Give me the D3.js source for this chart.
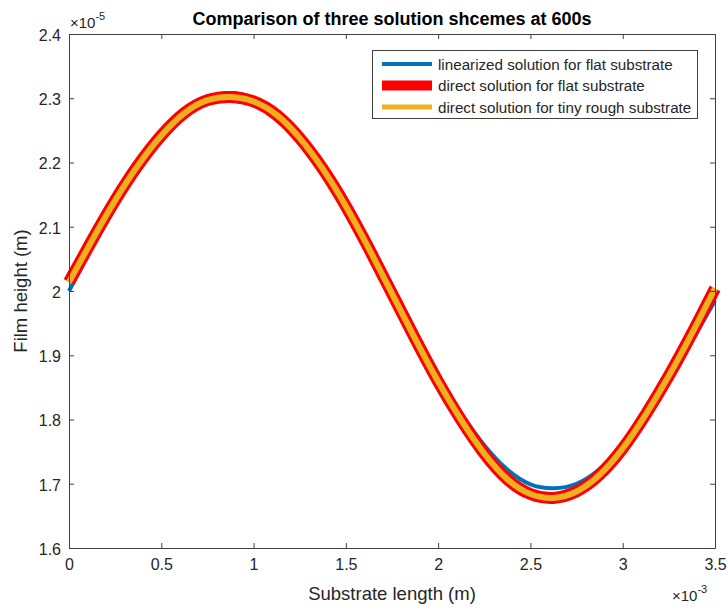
<!DOCTYPE html>
<html>
<head>
<meta charset="utf-8">
<script src="https://cdn.jsdelivr.net/npm/d3@7"></script>
<style>
  body { margin: 0; background: #fff; }
  svg { font-family: "Liberation Sans", Arial, sans-serif; }
</style>
</head>
<body>
<svg id="chart" width="728" height="610"></svg>
<script>
// substrate length (x 1e-3 m), sampled every 0.125
const xs = [0, 0.125, 0.25, 0.375, 0.5, 0.625, 0.75, 0.875, 1, 1.125, 1.25, 1.375, 1.5, 1.625,
  1.75, 1.875, 2, 2.125, 2.25, 2.375, 2.5, 2.625, 2.75, 2.875, 3, 3.125, 3.25, 3.375, 3.5]

// film height (x 1e-5 m)
const linearFlat = [2.000, 2.068, 2.134, 2.192, 2.241, 2.278, 2.300, 2.308, 2.300, 2.278, 2.241, 2.192,
  2.134, 2.068, 1.998, 1.930, 1.866, 1.809, 1.760, 1.722, 1.699, 1.693, 1.700, 1.723, 1.760, 1.808,
  1.864, 1.923, 1.985]
const directFlat = [2.014, 2.079, 2.141, 2.196, 2.242, 2.277, 2.297, 2.302, 2.295, 2.274, 2.238, 2.190,
  2.132, 2.066, 1.996, 1.926, 1.859, 1.799, 1.747, 1.707, 1.684, 1.678, 1.688, 1.714, 1.755, 1.808,
  1.868, 1.934, 2.004]
const directRough = directFlat.slice()

const xTicks = [0, 0.5, 1, 1.5, 2, 2.5, 3, 3.5]
const yTicks = [1.6, 1.7, 1.8, 1.9, 2, 2.1, 2.2, 2.3, 2.4]

const series = [
  { name: 'linearized solution for flat substrate', values: linearFlat, color: '#0072BD', width: 4, legendWidth: 4 },
  { name: 'direct solution for flat substrate', values: directFlat, color: '#FF0000', width: 12, legendWidth: 10 },
  { name: 'direct solution for tiny rough substrate', values: directRough, color: '#EDB120', width: 6, legendWidth: 5 },
]

const plot = { left: 69, right: 715, top: 34, bottom: 548 }
const axisColor = '#404040'
const textColor = '#262626'

const svg = d3.select('#chart')

const x = d3.scaleLinear().domain([0, 3.5]).range([plot.left, plot.right])
const y = d3.scaleLinear().domain([1.6, 2.4]).range([plot.bottom, plot.top])

// lines
const line = d3.line()
  .x((d, i) => x(xs[i]))
  .y((d) => y(d))
  .curve(d3.curveNatural)

svg.append('g')
  .selectAll('path')
  .data(series)
  .join('path')
  .attr('d', (s) => line(s.values))
  .attr('fill', 'none')
  .attr('stroke', (s) => s.color)
  .attr('stroke-width', (s) => s.width)

// axes (box with inward ticks)
const fmt = (d) => String(+d.toFixed(1))
const tickLen = 5

const axisB = svg.append('g').attr('transform', `translate(0,${plot.bottom})`)
  .call(d3.axisBottom(x).tickValues(xTicks).tickFormat(fmt).tickSizeInner(-tickLen).tickSizeOuter(0).tickPadding(11))
const axisT = svg.append('g').attr('transform', `translate(0,${plot.top})`)
  .call(d3.axisTop(x).tickValues(xTicks).tickFormat('').tickSizeInner(-tickLen).tickSizeOuter(0))
const axisL = svg.append('g').attr('transform', `translate(${plot.left},0)`)
  .call(d3.axisLeft(y).tickValues(yTicks).tickFormat(fmt).tickSizeInner(-tickLen).tickSizeOuter(0).tickPadding(8))
const axisR = svg.append('g').attr('transform', `translate(${plot.right},0)`)
  .call(d3.axisRight(y).tickValues(yTicks).tickFormat('').tickSizeInner(-tickLen).tickSizeOuter(0))

;[axisB, axisT, axisL, axisR].forEach((g) => {
  g.select('.domain').attr('stroke', axisColor)
  g.selectAll('.tick line').attr('stroke', axisColor)
  g.selectAll('.tick text').attr('fill', textColor).style('font-size', '16px')
})
axisL.selectAll('.tick text').attr('dy', '0.4em')

// exponent labels
const expLabel = (px, py, exp) => {
  const t = svg.append('text').attr('x', px).attr('y', py).attr('fill', textColor).style('font-size', '15px')
  t.append('tspan').text('\u00d710')
  t.append('tspan').attr('dy', -8).style('font-size', '11px').text(exp)
}
expLabel(70, 28, '-5')
expLabel(672, 601, '-3')

// axis labels
svg.append('text')
  .attr('x', (plot.left + plot.right) / 2)
  .attr('y', 600)
  .attr('text-anchor', 'middle')
  .attr('fill', textColor)
  .style('font-size', '18.5px')
  .text('Substrate length (m)')

svg.append('text')
  .attr('transform', `translate(27,${(plot.top + plot.bottom) / 2}) rotate(-90)`)
  .attr('text-anchor', 'middle')
  .attr('fill', textColor)
  .style('font-size', '18.5px')
  .text('Film height (m)')

// title
svg.append('text')
  .attr('x', (plot.left + plot.right) / 2)
  .attr('y', 25)
  .attr('text-anchor', 'middle')
  .attr('fill', '#000')
  .style('font-size', '18px')
  .style('font-weight', 'bold')
  .text('Comparison of three solution shcemes at 600s')

// legend
const legend = svg.append('g')
legend.append('rect')
  .attr('x', 372.5).attr('y', 50.5).attr('width', 325).attr('height', 68)
  .attr('fill', '#fff').attr('stroke', axisColor)

const rows = legend.selectAll('g.row')
  .data(series)
  .join('g')
  .attr('class', 'row')
  .attr('transform', (s, i) => `translate(0,${64 + i * 21.5})`)

rows.append('line')
  .attr('x1', 382).attr('x2', 432)
  .attr('stroke', (s) => s.color)
  .attr('stroke-width', (s) => s.legendWidth)

rows.append('text')
  .attr('x', 438).attr('y', 5.5)
  .attr('fill', textColor)
  .style('font-size', '15.2px')
  .text((s) => s.name)
</script>
</body>
</html>
